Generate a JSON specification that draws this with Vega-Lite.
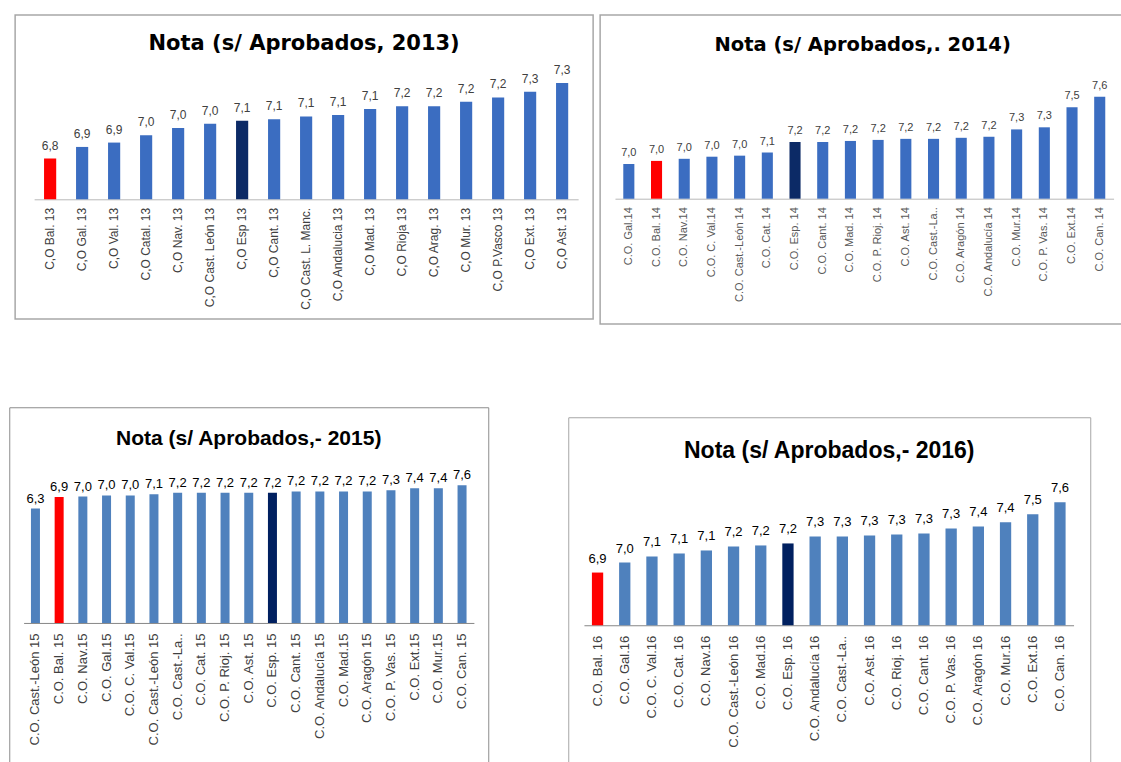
{
  "$schema": "https://vega.github.io/schema/vega-lite/v6.json",
  "padding": {"left": 8, "top": 14, "right": 0, "bottom": 0},
  "autosize": {"type": "pad"},
  "background": "white",
  "config": {
    "locale": {"number": {"decimal": ",", "thousands": ".", "grouping": [3], "currency": ["", " €"]}},
    "font": "Liberation Sans",
    "view": {"stroke": "#a0a0a0", "strokeWidth": 1},
    "title": {"fontWeight": "bold", "color": "#000000", "anchor": "middle", "frame": "group"},
    "axis": {"grid": false, "ticks": false, "title": null, "labelOverlap": false, "labelLimit": 300}
  },
  "datasets": {
    "y2013": [
      {"region": "C,O Bal. 13", "nota": 6.80, "tipo": "Baleares"},
      {"region": "C,O Gal. 13", "nota": 6.88, "tipo": "Otra"},
      {"region": "C,O Val. 13", "nota": 6.91, "tipo": "Otra"},
      {"region": "C,O Catal. 13", "nota": 6.96, "tipo": "Otra"},
      {"region": "C,O Nav. 13", "nota": 7.01, "tipo": "Otra"},
      {"region": "C,O Cast. León 13", "nota": 7.04, "tipo": "Otra"},
      {"region": "C,O Esp 13", "nota": 7.06, "tipo": "España"},
      {"region": "C,O Cant. 13", "nota": 7.07, "tipo": "Otra"},
      {"region": "C,O Cast. L. Manc.", "nota": 7.09, "tipo": "Otra"},
      {"region": "C,O  Andalucia 13", "nota": 7.10, "tipo": "Otra"},
      {"region": "C,O Mad. 13", "nota": 7.14, "tipo": "Otra"},
      {"region": "C,O Rioja 13", "nota": 7.16, "tipo": "Otra"},
      {"region": "C,O Arag. 13", "nota": 7.16, "tipo": "Otra"},
      {"region": "C,O Mur. 13", "nota": 7.19, "tipo": "Otra"},
      {"region": "C,O P.Vasco 13", "nota": 7.22, "tipo": "Otra"},
      {"region": "C,O Ext. 13", "nota": 7.26, "tipo": "Otra"},
      {"region": "C,O Ast. 13", "nota": 7.32, "tipo": "Otra"}
    ],
    "y2014": [
      {"region": "C.O. Gal.14", "nota": 6.96, "tipo": "Otra"},
      {"region": "C.O. Bal. 14", "nota": 6.99, "tipo": "Baleares"},
      {"region": "C.O. Nav.14", "nota": 7.01, "tipo": "Otra"},
      {"region": "C.O. C. Val.14", "nota": 7.03, "tipo": "Otra"},
      {"region": "C.O. Cast.-León 14", "nota": 7.04, "tipo": "Otra"},
      {"region": "C.O. Cat. 14", "nota": 7.07, "tipo": "Otra"},
      {"region": "C.O. Esp. 14", "nota": 7.17, "tipo": "España"},
      {"region": "C.O. Cant. 14", "nota": 7.17, "tipo": "Otra"},
      {"region": "C.O. Mad. 14", "nota": 7.18, "tipo": "Otra"},
      {"region": "C.O. P. Rioj. 14", "nota": 7.19, "tipo": "Otra"},
      {"region": "C.O. Ast. 14", "nota": 7.20, "tipo": "Otra"},
      {"region": "C.O. Cast.-La..", "nota": 7.20, "tipo": "Otra"},
      {"region": "C.O. Aragón 14", "nota": 7.21, "tipo": "Otra"},
      {"region": "C.O. Andalucía 14", "nota": 7.22, "tipo": "Otra"},
      {"region": "C.O. Mur.14", "nota": 7.29, "tipo": "Otra"},
      {"region": "C.O. P. Vas. 14", "nota": 7.31, "tipo": "Otra"},
      {"region": "C.O. Ext.14", "nota": 7.50, "tipo": "Otra"},
      {"region": "C.O. Can. 14", "nota": 7.60, "tipo": "Otra"}
    ],
    "y2015": [
      {"region": "C.O.  Cast.-León 15", "nota": 6.30, "tipo": "Otra"},
      {"region": "C.O. Bal. 15", "nota": 6.93, "tipo": "Baleares"},
      {"region": "C.O. Nav.15", "nota": 6.96, "tipo": "Otra"},
      {"region": "C.O. Gal.15", "nota": 7.02, "tipo": "Otra"},
      {"region": "C.O. C. Val.15", "nota": 7.02, "tipo": "Otra"},
      {"region": "C.O. Cast.-León 15", "nota": 7.08, "tipo": "Otra"},
      {"region": "C.O. Cast.-La..", "nota": 7.17, "tipo": "Otra"},
      {"region": "C.O. Cat. 15", "nota": 7.17, "tipo": "Otra"},
      {"region": "C.O. P. Rioj. 15", "nota": 7.17, "tipo": "Otra"},
      {"region": "C.O. Ast. 15", "nota": 7.17, "tipo": "Otra"},
      {"region": "C.O. Esp. 15", "nota": 7.17, "tipo": "España"},
      {"region": "C.O. Cant. 15", "nota": 7.24, "tipo": "Otra"},
      {"region": "C.O. Andalucía 15", "nota": 7.24, "tipo": "Otra"},
      {"region": "C.O. Mad.15", "nota": 7.24, "tipo": "Otra"},
      {"region": "C.O. Aragón 15", "nota": 7.24, "tipo": "Otra"},
      {"region": "C.O. P. Vas. 15", "nota": 7.31, "tipo": "Otra"},
      {"region": "C.O. Ext.15", "nota": 7.41, "tipo": "Otra"},
      {"region": "C.O. Mur.15", "nota": 7.41, "tipo": "Otra"},
      {"region": "C.O. Can. 15", "nota": 7.58, "tipo": "Otra"}
    ],
    "y2016": [
      {"region": "C.O. Bal. 16", "nota": 6.90, "tipo": "Baleares"},
      {"region": "C.O. Gal.16", "nota": 7.00, "tipo": "Otra"},
      {"region": "C.O. C. Val.16", "nota": 7.06, "tipo": "Otra"},
      {"region": "C.O. Cat. 16", "nota": 7.09, "tipo": "Otra"},
      {"region": "C.O. Nav.16", "nota": 7.12, "tipo": "Otra"},
      {"region": "C.O. Cast.-León 16", "nota": 7.16, "tipo": "Otra"},
      {"region": "C.O. Mad.16", "nota": 7.17, "tipo": "Otra"},
      {"region": "C.O. Esp. 16", "nota": 7.19, "tipo": "España"},
      {"region": "C.O. Andalucía 16", "nota": 7.26, "tipo": "Otra"},
      {"region": "C.O. Cast.-La..", "nota": 7.26, "tipo": "Otra"},
      {"region": "C.O. Ast. 16", "nota": 7.27, "tipo": "Otra"},
      {"region": "C.O. Rioj. 16", "nota": 7.28, "tipo": "Otra"},
      {"region": "C.O. Cant. 16", "nota": 7.29, "tipo": "Otra"},
      {"region": "C.O. P. Vas. 16", "nota": 7.34, "tipo": "Otra"},
      {"region": "C.O. Aragón 16", "nota": 7.36, "tipo": "Otra"},
      {"region": "C.O. Mur.16", "nota": 7.40, "tipo": "Otra"},
      {"region": "C.O. Ext.16", "nota": 7.48, "tipo": "Otra"},
      {"region": "C.O. Can. 16", "nota": 7.60, "tipo": "Otra"}
    ]
  },
  "spacing": 81,
  "center": true,
  "resolve": {"scale": {"color": "independent"}},
  "vconcat": [
    {
      "spacing": 5,
      "resolve": {"scale": {"color": "independent"}},
      "hconcat": [
        {
          "width": 578,
          "height": 304,
          "data": {"name": "y2013"},
          "title": {"text": "Nota (s/ Aprobados, 2013)", "font": "DejaVu Sans", "fontSize": 21, "offset": -39},
          "view": {"stroke": "#a8a8a8", "strokeWidth": 1.5},
          "encoding": {
            "x": {
              "field": "region", "type": "nominal", "sort": null,
              "scale": {"range": [19, 563], "paddingInner": 0.62, "paddingOuter": 0.31},
              "axis": {"orient": "bottom", "offset": -119.7, "labelAngle": -90, "labelFontSize": 12, "labelColor": "#404040", "domainColor": "#b8b8b8", "labelPadding": 8}
            },
            "y": {
              "field": "nota", "type": "quantitative",
              "scale": {"domain": [6.52, 7.40], "range": [184.3, 56.3], "zero": false, "nice": false},
              "axis": null
            }
          },
          "layer": [
            {
              "mark": {"type": "bar"},
              "encoding": {
                "y2": {"datum": 6.52},
                "color": {"field": "tipo", "type": "nominal", "legend": null,
                  "scale": {"domain": ["Baleares", "España", "Otra"], "range": ["#ff0000", "#0c2a66", "#3b6dc1"]}}
              }
            },
            {
              "mark": {"type": "text", "baseline": "bottom", "dy": -6, "fontSize": 12, "color": "#404040"},
              "encoding": {"text": {"field": "nota", "type": "quantitative", "format": ".1f"}}
            }
          ]
        },
        {
          "width": 525,
          "height": 309,
          "data": {"name": "y2014"},
          "title": {"text": "Nota (s/ Aprobados,. 2014)", "font": "DejaVu Sans", "fontSize": 19.5, "offset": -40},
          "view": {"stroke": "#a8a8a8", "strokeWidth": 1.5},
          "encoding": {
            "x": {
              "field": "region", "type": "nominal", "sort": null,
              "scale": {"range": [14.85, 513.45], "paddingInner": 0.6, "paddingOuter": 0.3},
              "axis": {"orient": "bottom", "offset": -125.3, "labelAngle": -90, "labelFontSize": 11, "labelColor": "#595959", "domainColor": "#b8b8b8", "labelPadding": 8}
            },
            "y": {
              "field": "nota", "type": "quantitative",
              "scale": {"domain": [6.63, 7.773], "range": [183.7, 63.7], "zero": false, "nice": false},
              "axis": null
            }
          },
          "layer": [
            {
              "mark": {"type": "bar"},
              "encoding": {
                "y2": {"datum": 6.63},
                "color": {"field": "tipo", "type": "nominal", "legend": null,
                  "scale": {"domain": ["Baleares", "España", "Otra"], "range": ["#ff0000", "#0c2a66", "#3b6dc1"]}}
              }
            },
            {
              "mark": {"type": "text", "baseline": "bottom", "dy": -6, "fontSize": 11, "color": "#404040"},
              "encoding": {"text": {"field": "nota", "type": "quantitative", "format": ".1f"}}
            }
          ]
        }
      ]
    },
    {
      "spacing": 78,
      "center": true,
      "resolve": {"scale": {"color": "independent"}},
      "hconcat": [
        {
          "width": 479,
          "height": 365,
          "data": {"name": "y2015"},
          "title": {"text": "Nota (s/ Aprobados,- 2015)", "font": "Liberation Sans", "fontSize": 21, "offset": -42},
          "view": {"stroke": "#8c8c8c", "strokeWidth": 1},
          "encoding": {
            "x": {
              "field": "region", "type": "nominal", "sort": null,
              "scale": {"range": [14.35, 464.65], "paddingInner": 0.62, "paddingOuter": 0.31},
              "axis": {"orient": "bottom", "offset": -149.3, "labelAngle": -90, "labelFontSize": 13, "labelColor": "#404040", "domainColor": "#868686", "labelPadding": 10}
            },
            "y": {
              "field": "nota", "type": "quantitative",
              "scale": {"domain": [0, 8], "range": [215.7, 70.4], "nice": false},
              "axis": null
            }
          },
          "layer": [
            {
              "mark": {"type": "bar"},
              "encoding": {
                "color": {"field": "tipo", "type": "nominal", "legend": null,
                  "scale": {"domain": ["Baleares", "España", "Otra"], "range": ["#ff0000", "#002060", "#4f81bd"]}}
              }
            },
            {
              "mark": {"type": "text", "baseline": "bottom", "dy": -3, "fontSize": 13, "color": "#000000"},
              "encoding": {"text": {"field": "nota", "type": "quantitative", "format": ".1f"}}
            }
          ]
        },
        {
          "width": 522,
          "height": 345,
          "data": {"name": "y2016"},
          "title": {"text": "Nota (s/ Aprobados,- 2016)", "font": "Liberation Sans", "fontSize": 23, "offset": -46},
          "view": {"stroke": "#a6a6a6", "strokeWidth": 1},
          "encoding": {
            "x": {
              "field": "region", "type": "nominal", "sort": null,
              "scale": {"range": [15.7, 505.3], "paddingInner": 0.585, "paddingOuter": 0.2925},
              "axis": {"orient": "bottom", "offset": -137, "labelAngle": -90, "labelFontSize": 13, "labelColor": "#404040", "domainColor": "#868686", "labelPadding": 10}
            },
            "y": {
              "field": "nota", "type": "quantitative",
              "scale": {"domain": [6.375, 7.72], "range": [208, 73], "zero": false, "nice": false},
              "axis": {"orient": "right", "labels": false, "ticks": false, "domain": false, "grid": false, "title": null, "minExtent": 41, "maxExtent": 41}
            }
          },
          "layer": [
            {
              "mark": {"type": "bar"},
              "encoding": {
                "y2": {"datum": 6.375},
                "color": {"field": "tipo", "type": "nominal", "legend": null,
                  "scale": {"domain": ["Baleares", "España", "Otra"], "range": ["#ff0000", "#002060", "#4f81bd"]}}
              }
            },
            {
              "mark": {"type": "text", "baseline": "bottom", "dy": -7, "fontSize": 13, "color": "#000000"},
              "encoding": {"text": {"field": "nota", "type": "quantitative", "format": ".1f"}}
            }
          ]
        }
      ]
    }
  ]
}
